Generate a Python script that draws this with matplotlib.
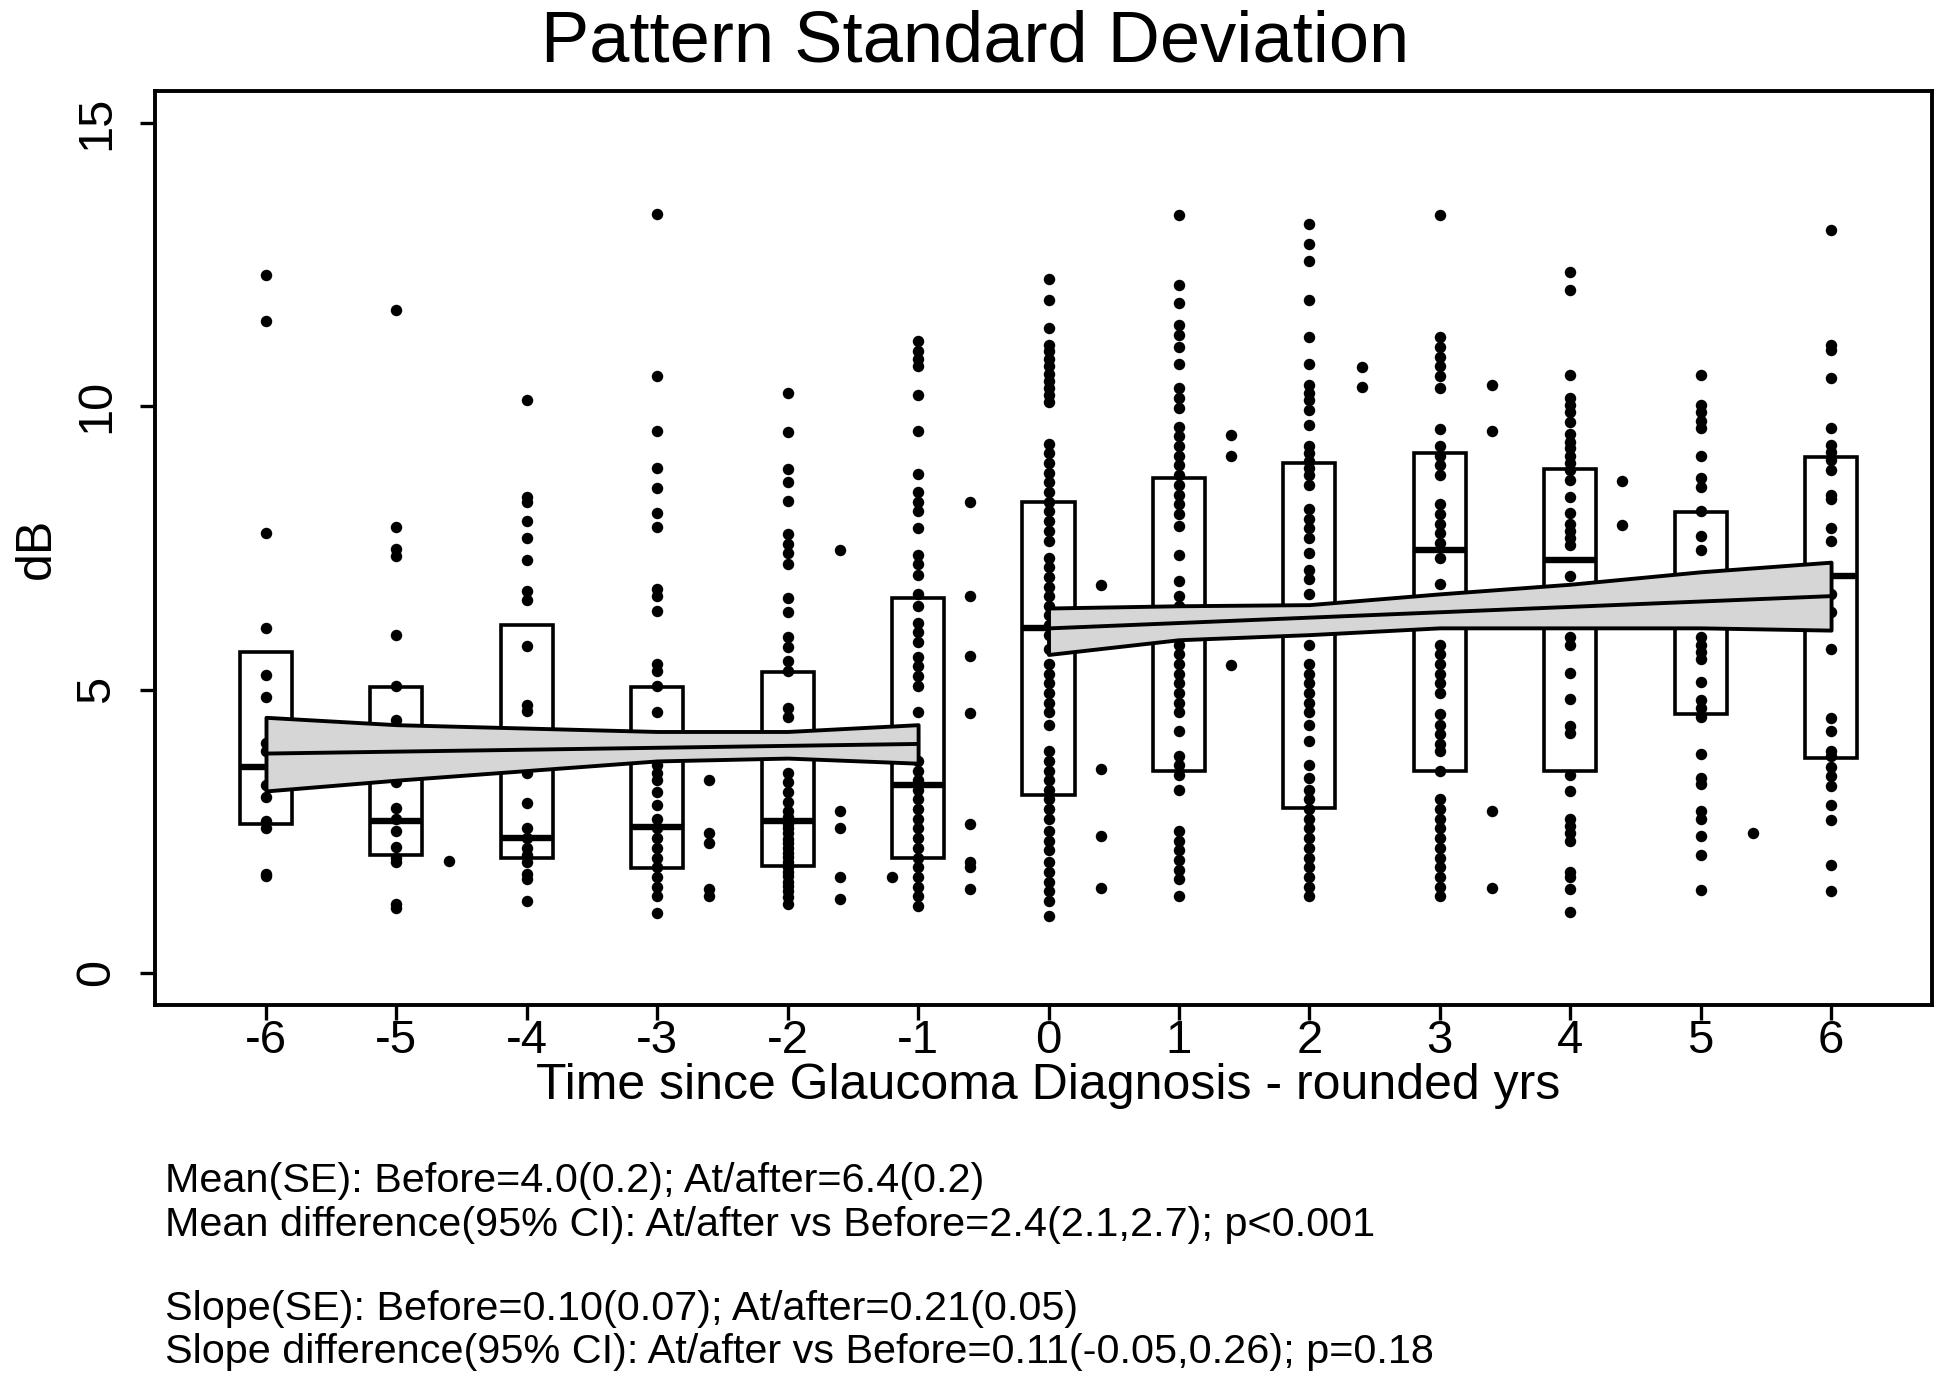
import numpy as np
import matplotlib
matplotlib.use("Agg")
import matplotlib.pyplot as plt
from matplotlib.patches import Rectangle

plt.rcParams['font.family'] = ['Liberation Sans', 'DejaVu Sans']

# years since diagnosis (rounded)
years = [-6, -5, -4, -3, -2, -1, 0, 1, 2, 3, 4, 5, 6]

# box stats per year (Q1, median, Q3), dB
box_q1  = [2.62, 2.08, 2.03, 1.85, 1.88, 2.03, 3.13, 3.57, 2.91, 3.57, 3.56, 4.56, 3.79]
box_med = [3.63, 2.68, 2.38, 2.57, 2.68, 3.32, 6.09, 6.20, 6.30, 7.46, 7.29, 6.50, 7.01]
box_q3  = [5.67, 5.04, 6.14, 5.04, 5.31, 6.61, 8.32, 8.73, 9.00, 9.17, 8.90, 8.13, 9.10]

# individual PSD values per rounded year
psd_m6 = [12.32, 11.50, 7.76, 6.09, 5.26, 4.87, 4.05, 3.92, 3.32, 3.10, 2.68, 2.55, 1.75, 1.70]
psd_m5 = [11.71, 7.87, 7.49, 7.35, 5.97, 5.07, 4.47, 3.36, 2.91, 2.72, 2.50, 2.22, 2.03, 1.95,
          1.22, 1.15]
psd_m4 = [10.11, 8.40, 8.32, 7.97, 7.68, 7.29, 6.74, 6.59, 5.77, 4.73, 4.62, 3.53, 2.99, 2.55,
          2.38, 2.21, 2.08, 1.95, 1.74, 1.65, 1.27]
psd_m3 = [13.40, 10.54, 9.56, 8.91, 8.56, 8.12, 7.87, 6.78, 6.65, 6.39, 5.45, 5.32, 5.07, 4.60,
          3.66, 3.53, 3.40, 3.19, 2.97, 2.72, 2.55, 2.38, 2.21, 2.03, 1.86, 1.69, 1.52, 1.35, 1.05]
psd_m2 = [10.24, 9.54, 8.89, 8.66, 8.33, 7.74, 7.57, 7.42, 7.21, 6.61, 6.37, 5.92, 5.75, 5.50,
          5.32, 4.68, 4.51, 3.53, 3.36, 3.19, 3.02, 2.85, 2.75, 2.63, 2.55, 2.46, 2.37, 2.29,
          2.20, 2.12, 2.04, 1.95, 1.87, 1.78, 1.70, 1.61, 1.53, 1.44, 1.33, 1.22]
psd_m1 = [11.15, 10.97, 10.84, 10.71, 10.20, 9.57, 8.80, 8.49, 8.32, 8.16, 7.85, 7.38, 7.21,
          7.03, 6.69, 6.48, 6.18, 6.01, 5.84, 5.58, 5.41, 5.24, 5.07, 4.60, 3.74, 3.57, 3.40,
          3.23, 3.06, 2.89, 2.72, 2.55, 2.38, 2.21, 2.03, 1.86, 1.69, 1.52, 1.35, 1.18]
psd_0 = [12.25, 11.88, 11.39, 11.09, 10.97, 10.84, 10.71, 10.58, 10.45, 10.32, 10.20, 10.07,
         9.34, 9.17, 9.00, 8.83, 8.66, 8.49, 8.32, 8.15, 7.97, 7.80, 7.63, 7.33, 7.16, 6.99,
         6.82, 6.65, 6.48, 6.31, 6.14, 5.97, 5.71, 5.45, 5.28, 5.11, 4.94, 4.77, 4.60, 4.38,
         3.91, 3.74, 3.57, 3.40, 3.23, 3.06, 2.89, 2.72, 2.50, 2.33, 2.16, 1.95, 1.78, 1.61,
         1.44, 1.26, 1.01]
psd_1 = [13.38, 12.14, 11.82, 11.44, 11.26, 11.05, 10.75, 10.32, 10.15, 9.98, 9.64, 9.47, 9.30,
         9.13, 8.96, 8.79, 8.62, 8.44, 8.27, 8.10, 7.89, 7.38, 6.91, 6.65, 6.48, 6.26, 6.09,
         5.79, 5.62, 5.45, 5.28, 5.11, 4.94, 4.77, 4.60, 4.26, 3.83, 3.66, 3.49, 3.23, 2.50,
         2.33, 2.16, 1.99, 1.82, 1.65, 1.35]
psd_2 = [13.23, 12.86, 12.56, 11.88, 11.22, 10.75, 10.37, 10.24, 10.11, 9.94, 9.68, 9.30, 9.17,
         9.04, 8.91, 8.79, 8.62, 8.19, 8.02, 7.85, 7.68, 7.42, 7.12, 6.95, 6.69, 5.79, 5.45,
         5.28, 5.11, 4.94, 4.77, 4.60, 4.38, 4.09, 3.66, 3.44, 3.23, 3.06, 2.89, 2.72, 2.55,
         2.38, 2.21, 2.03, 1.86, 1.69, 1.52, 1.35]
psd_3 = [13.38, 11.22, 11.05, 10.88, 10.71, 10.54, 10.32, 9.60, 9.30, 9.13, 8.96, 8.79, 8.27,
         8.10, 7.93, 7.76, 7.59, 7.33, 6.86, 6.48, 5.79, 5.62, 5.45, 5.28, 5.11, 4.94, 4.56,
         4.38, 4.21, 4.04, 3.91, 3.57, 3.06, 2.89, 2.72, 2.55, 2.38, 2.21, 2.03, 1.86, 1.69,
         1.52, 1.35]
psd_4 = [12.38, 12.06, 10.56, 10.15, 10.03, 9.90, 9.73, 9.51, 9.38, 9.26, 9.13, 9.00, 8.87,
         8.70, 8.40, 8.12, 7.93, 7.80, 7.68, 7.55, 7.01, 5.92, 5.79, 5.30, 4.84, 4.36, 4.24,
         3.50, 3.21, 2.72, 2.59, 2.46, 2.33, 1.78, 1.69, 1.48, 1.08]
psd_5 = [10.56, 10.03, 9.90, 9.75, 9.62, 9.13, 8.74, 8.57, 8.15, 7.72, 7.46, 5.92, 5.79, 5.67,
         5.54, 5.13, 4.81, 4.68, 4.51, 3.87, 3.44, 3.33, 2.85, 2.72, 2.42, 2.08, 1.46]
psd_6 = [13.12, 11.09, 10.99, 10.51, 9.62, 9.32, 9.20, 9.06, 8.87, 8.44, 8.36, 7.85, 7.63, 6.69,
         6.37, 5.71, 4.50, 4.27, 3.91, 3.83, 3.64, 3.47, 3.30, 2.97, 2.70, 1.91, 1.45]

# visits plotted between the year columns
between_x = [-4.6, -2.6, -2.6, -2.6, -2.6, -2.6, -1.6, -1.6, -1.6, -1.6, -1.6, -1.2,
             -0.6, -0.6, -0.6, -0.6, -0.6, -0.6, -0.6, -0.6,
             0.4, 0.4, 0.4, 0.4, 1.4, 1.4, 1.4, 2.4, 2.4, 3.4, 3.4, 3.4, 3.4, 4.4, 4.4, 5.4]
between_y = [1.97, 3.40, 2.46, 2.29, 1.48, 1.35, 7.46, 2.85, 2.55, 1.69, 1.31, 1.69,
             8.32, 6.65, 5.60, 4.58, 2.62, 1.95, 1.86, 1.48,
             6.84, 3.59, 2.42, 1.50, 9.49, 9.13, 5.43, 10.69, 10.35, 10.38, 9.57, 2.85, 1.50,
             8.68, 7.91, 2.46]

# fitted lines and 95% bands
before_x  = [-6, -5, -4, -3, -2, -1]
before_lo = [3.21, 3.40, 3.57, 3.74, 3.79, 3.70]
before_hi = [4.51, 4.38, 4.32, 4.26, 4.26, 4.38]
before_fit = [3.87, 4.04]
after_x  = [0, 1, 2, 3, 4, 5, 6]
after_lo = [5.62, 5.88, 5.97, 6.09, 6.09, 6.09, 6.05]
after_hi = [6.44, 6.48, 6.50, 6.69, 6.86, 7.08, 7.25]
after_fit = [6.08, 6.65]

notes = ["Mean(SE): Before=4.0(0.2); At/after=6.4(0.2)",
         "Mean difference(95% CI): At/after vs Before=2.4(2.1,2.7); p<0.001",
         "Slope(SE): Before=0.10(0.07); At/after=0.21(0.05)",
         "Slope difference(95% CI): At/after vs Before=0.11(-0.05,0.26); p=0.18"]

psd_all = [psd_m6, psd_m5, psd_m4, psd_m3, psd_m2, psd_m1, psd_0,
           psd_1, psd_2, psd_3, psd_4, psd_5, psd_6]

W, H = 1950, 1383
fig = plt.figure(figsize=(W / 100, H / 100), dpi=100)
ax = fig.add_axes([155 / W, 1 - 1005 / H, (1932 - 155) / W, (1005 - 91) / H])

bw = 0.4
for x, q1, md, q3 in zip(years, box_q1, box_med, box_q3):
    ax.add_patch(Rectangle((x - bw / 2, q1), bw, q3 - q1, fill=False,
                           ec='black', lw=2.6, zorder=2))
    ax.plot([x - bw / 2, x + bw / 2], [md, md], color='black', lw=4.6,
            solid_capstyle='butt', zorder=2)

for x, vals in zip(years, psd_all):
    ax.scatter(np.full(len(vals), x), vals, s=68, c='black', lw=0, zorder=3)
ax.scatter(between_x, between_y, s=68, c='black', lw=0, zorder=3)

for bx, lo, hi, fit in [(before_x, before_lo, before_hi, before_fit),
                        (after_x, after_lo, after_hi, after_fit)]:
    ax.fill_between(bx, lo, hi, facecolor='#d6d6d6', edgecolor='black',
                    lw=2.8, zorder=4)
    ax.plot([bx[0], bx[-1]], fit, color='black', lw=2.8, zorder=5)

ax.set_xlim(-6.851, 6.774)
ax.set_ylim(-0.57, 15.57)
ax.set_xticks(years)
ax.set_xticklabels([str(y) for y in years], fontsize=34)
ax.set_yticks([0, 5, 10, 15])
ax.set_yticklabels(['0', '5', '10', '15'], fontsize=35, rotation=90, va='center')
ax.tick_params(axis='both', direction='out', length=11, width=2.4)
ax.tick_params(axis='x', pad=-1)
ax.tick_params(axis='y', pad=15)
for sp in ax.spines.values():
    sp.set_linewidth(2.8)

fig.text(975 / W, 1 - 43 / H, 'Pattern Standard Deviation', ha='center', va='center',
         fontsize=52)
fig.text(37 / W, 1 - 548 / H, 'dB', rotation=90, ha='center', va='center', fontsize=36)
fig.text(1048 / W, 1 - 1086 / H, 'Time since Glaucoma Diagnosis - rounded yrs',
         ha='center', va='center', fontsize=36)
for yy, line in zip([1181, 1225, 1309, 1352], notes):
    fig.text(165 / W, 1 - yy / H, line, ha='left', va='center', fontsize=29.8)

fig.savefig('out.png', dpi=100)
